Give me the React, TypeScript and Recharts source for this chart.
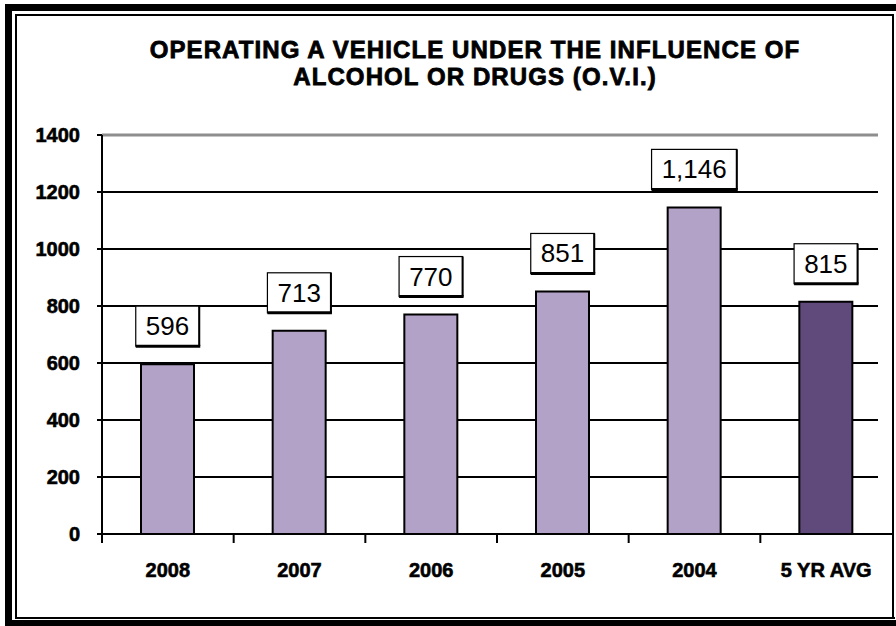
import React from "react";
import { BarChart, Bar, XAxis, YAxis, CartesianGrid, Cell, LabelList } from "recharts";

// chart values
const categories = ["2008", "2007", "2006", "2005", "2004", "5 YR AVG"];
const counts = [596, 713, 770, 851, 1146, 815];
const barColors = ["#B3A2C7", "#B3A2C7", "#B3A2C7", "#B3A2C7", "#B3A2C7", "#604A7B"];
const yTicks = [0, 200, 400, 600, 800, 1000, 1200, 1400];
const titleLines = ["OPERATING A VEHICLE UNDER THE INFLUENCE OF", "ALCOHOL OR DRUGS (O.V.I.)"];

const data = categories.map((name, i) => ({ name, value: counts[i] }));

const W = 896;
const H = 626;
const FONT = "'Liberation Sans', Arial, Helvetica, sans-serif";
const Y_AXIS_W = 60;
const MARGIN = { top: 135, right: 4, left: 42, bottom: 42 };
const PLOT_W = W - MARGIN.left - Y_AXIS_W - MARGIN.right;
const BAND = PLOT_W / categories.length;

// gridlines stop a little short of the plot's right edge, top one is grey
const GridLine = (props: any) => {
  const { x1, x2, y1, y } = props;
  const isTop = Math.abs(y1 - y) < 1;
  return (
    <line
      x1={x1}
      x2={x2 - 14}
      y1={y1}
      y2={y1}
      stroke={isTop ? "#8E8E8E" : "#000"}
      strokeWidth={isTop ? 3 : 2}
    />
  );
};

const XTick = ({ x, y, payload }: any) => {
  const bx = x - BAND / 2;
  return (
    <g>
      <line x1={bx} x2={bx} y1={y} y2={y + 9} stroke="#000" strokeWidth={2} />
      <text
        x={x}
        y={y + 43}
        textAnchor="middle"
        fontFamily={FONT}
        fontWeight="bold"
        fontSize={20}
        fill="#000"
        stroke="#000"
        strokeWidth={0.6}
      >
        {payload.value}
      </text>
    </g>
  );
};

const ValueBox = ({ x, y, width, value }: any) => {
  const txt = Number(value).toLocaleString("en-US");
  const digits = txt.replace(/,/g, "").length;
  const commas = txt.length - digits;
  const bw = digits * 14.5 + commas * 7.2 + 20;
  const bh = 40;
  const cx = x + width / 2;
  const bottom = y - 18;
  const top = bottom - bh;
  return (
    <g>
      <rect x={cx - bw / 2} y={top} width={bw} height={bh} fill="#fff" stroke="#000" strokeWidth={1.2} />
      <line x1={cx - bw / 2} x2={cx + bw / 2 + 1} y1={bottom} y2={bottom} stroke="#000" strokeWidth={3} />
      <line x1={cx + bw / 2} x2={cx + bw / 2} y1={top} y2={bottom} stroke="#000" strokeWidth={2} />
      <text
        x={cx}
        y={top + bh / 2 + 9}
        textAnchor="middle"
        fontFamily={FONT}
        fontSize={26}
        fill="#000"
      >
        {txt}
      </text>
    </g>
  );
};

const box = (s: React.CSSProperties): React.CSSProperties => ({ position: "absolute", background: "#000", ...s });

export default function App() {
  return (
    <div style={{ position: "absolute", left: 0, top: 0, width: W, height: H, background: "#fff", fontFamily: FONT }}>
      {/* double frame */}
      <div style={box({ left: 5, top: 4, width: W - 5, height: 7 })} />
      <div style={box({ left: 5, top: 4, width: 7, height: H - 4 })} />
      <div style={box({ left: 5, top: 620, width: W - 5, height: 6 })} />
      <div style={box({ left: 15, top: 14, width: 878, height: 2 })} />
      <div style={box({ left: 15, top: 14, width: 2, height: 604 })} />
      <div style={box({ left: 15, top: 617, width: 880, height: 2 })} />
      <div style={box({ left: 892, top: 14, width: 2, height: 605 })} />

      <div
        style={{
          position: "absolute",
          left: 0,
          top: 36,
          width: 950,
          textAlign: "center",
          fontWeight: "bold",
          fontSize: 24,
          letterSpacing: 1.1,
          lineHeight: "27px",
          color: "#000",
          WebkitTextStroke: "0.8px #000",
        }}
      >
        {titleLines.map((t) => (
          <div key={t}>{t}</div>
        ))}
      </div>

      <div style={{ position: "absolute", left: 0, top: 0 }}>
        <BarChart width={W} height={H} data={data} margin={MARGIN}>
          <CartesianGrid vertical={false} horizontal={GridLine} />
          <XAxis
            dataKey="name"
            axisLine={{ stroke: "#000", strokeWidth: 2 }}
            tickLine={false}
            tickSize={0}
            tickMargin={0}
            height={50}
            interval={0}
            tick={<XTick />}
          />
          <YAxis
            domain={[0, 1400]}
            ticks={yTicks}
            interval={0}
            width={Y_AXIS_W}
            axisLine={{ stroke: "#000", strokeWidth: 2 }}
            tickLine={{ stroke: "#000", strokeWidth: 2 }}
            tickSize={5}
            tickMargin={17}
            tick={{ fontFamily: FONT, fontWeight: "bold", fontSize: 20, fill: "#000", stroke: "#000", strokeWidth: 0.6 }}
          />
          <Bar dataKey="value" barSize={53} stroke="#000" strokeWidth={2} isAnimationActive={false}>
            {data.map((d, i) => (
              <Cell key={d.name} fill={barColors[i]} />
            ))}
            <LabelList dataKey="value" content={<ValueBox />} />
          </Bar>
        </BarChart>
      </div>
    </div>
  );
}
